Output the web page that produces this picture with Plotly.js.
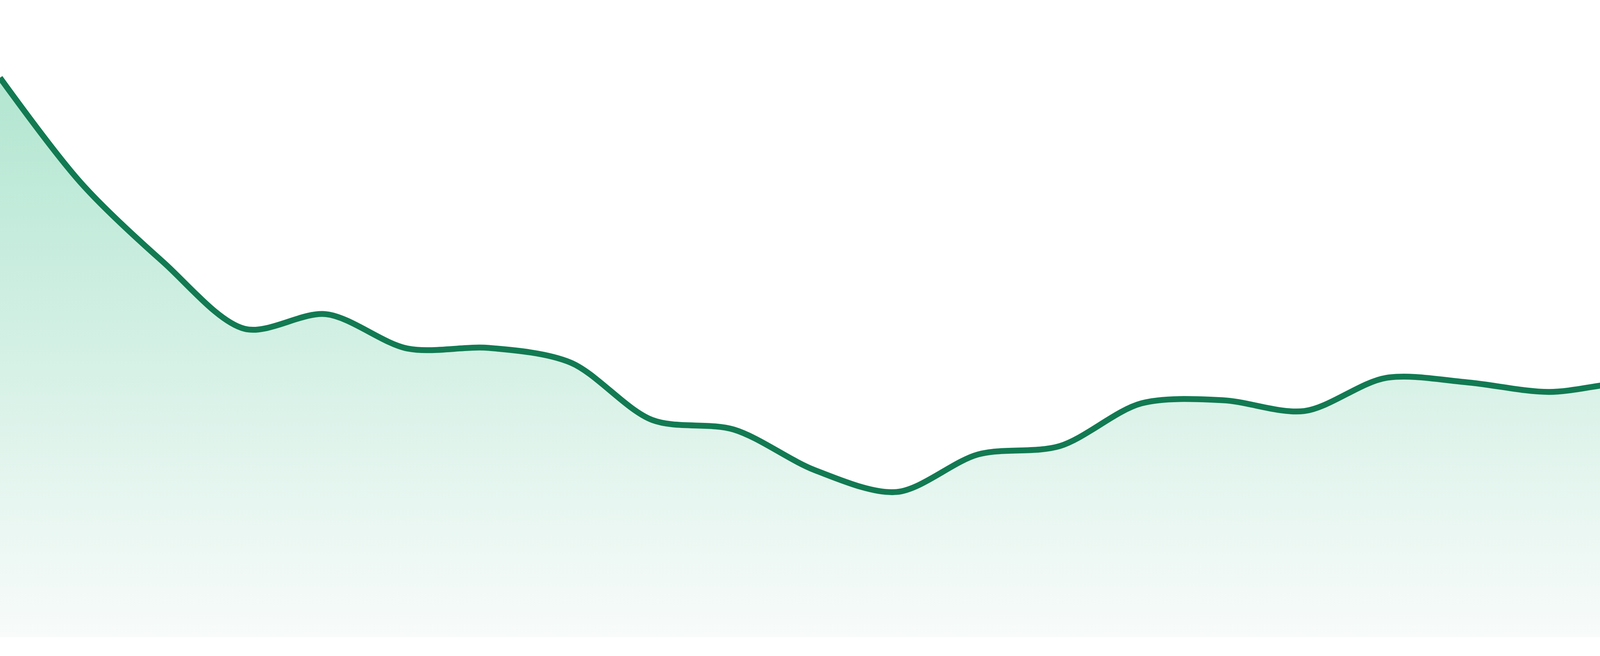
<!DOCTYPE html>
<html>
<head>
<meta charset="utf-8">
<script src="https://cdn.plot.ly/plotly-3.0.1.min.js"></script>
<style>
  html, body { margin: 0; padding: 0; background: #ffffff; }
  #chart { width: 4800px; height: 1680px; }
</style>
</head>
<body>
<div id="chart"></div>
<script>
const hours = [0, 1, 2, 3, 4, 5, 6, 7, 8, 9, 10, 11, 12, 13, 14, 15, 16, 17, 18, 19, 20, 21, 22, 23];
const values = [
  87.8, 71.2, 58.9, 48.4, 50.7, 45.3, 45.4, 43.1,
  34.1, 32.6, 26.2, 22.8, 28.7, 30.0, 36.7, 37.2,
  35.5, 40.7, 40.0, 38.5, 40.0, 38.9, 33.5, 28.2,
];
const lineColor = "#127a53";
const fillTop = "rgb(178, 230, 209)";
const fillBottom = "rgb(248, 251, 250)";

(function () {
  const chartEl = document.getElementById("chart");
  const peak = Math.max.apply(null, values);

  const trace = {
    x: hours,
    y: values,
    type: "scatter",
    mode: "lines",
    line: { color: lineColor, width: 15, shape: "spline", smoothing: 0.9 },
    fill: "tozeroy",
    fillgradient: {
      type: "vertical",
      start: 0,
      stop: peak,
      colorscale: [[0, fillBottom], [1, fillTop]],
    },
    hoverinfo: "skip",
  };

  const hidden = {
    visible: false,
    showgrid: false,
    zeroline: false,
    showticklabels: false,
    fixedrange: true,
  };

  const layout = {
    width: 4800,
    height: 1680,
    margin: { t: 0, r: 0, b: 48, l: 0 },
    paper_bgcolor: "#ffffff",
    plot_bgcolor: "#ffffff",
    showlegend: false,
    xaxis: Object.assign({ range: [0, 23] }, hidden),
    yaxis: Object.assign({ range: [0, 100] }, hidden),
  };

  Plotly.newPlot(chartEl, [trace], layout, { staticPlot: true, displayModeBar: false });
}());
</script>
</body>
</html>
